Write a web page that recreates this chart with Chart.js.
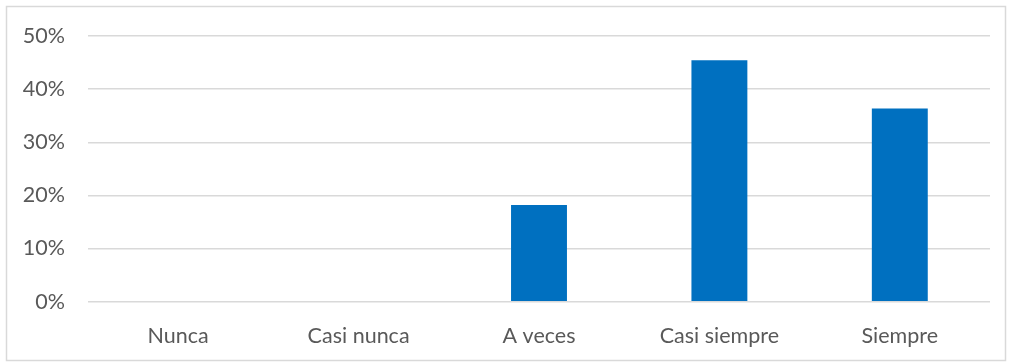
<!DOCTYPE html>
<html><head><meta charset="utf-8">
<script src="https://cdn.jsdelivr.net/npm/chart.js@4/dist/chart.umd.min.js"></script>
<style>html,body{margin:0;padding:0;background:#fff;}canvas{display:block;}</style>
</head><body>
<canvas id="c" width="1009" height="363"></canvas>
<script>
const categories = ["Nunca", "Casi nunca", "A veces", "Casi siempre", "Siempre"];
const values = [0, 0, 0.1818, 0.4545, 0.3636];
const yTicks = [0, 0.1, 0.2, 0.3, 0.4, 0.5];

const borderPlugin = {
  id: 'frame',
  beforeDraw(chart) {
    const ctx = chart.ctx;
    ctx.save();
    ctx.fillStyle = '#fff';
    ctx.fillRect(0, 0, chart.width, chart.height);
    ctx.strokeStyle = '#d9d9d9';
    ctx.lineWidth = 1.5;
    ctx.strokeRect(6.5, 6.5, chart.width - 10, chart.height - 9);
    ctx.restore();
  }
};

new Chart(document.getElementById('c'), {
  type: 'bar',
  data: { labels: categories, datasets: [{ data: values, backgroundColor: '#0070c0', borderWidth: 0, categoryPercentage: 1, barPercentage: 0.31 }] },
  options: {
    responsive: false, animation: false, devicePixelRatio: 1,
    layout: { padding: { top: 36, right: 19, left: 0, bottom: 0 } },
    plugins: { legend: { display: false }, tooltip: { enabled: false } },
    scales: {
      x: {
        grid: { display: false }, border: { display: false },
        ticks: { color: '#595959', font: { family: 'Lato', size: 21.5 }, padding: 13, maxRotation: 0 },
        afterFit(s) { s.height = 61.3; }
      },
      y: {
        min: 0, max: 0.5,
        afterBuildTicks(s) { s.ticks = yTicks.map(v => ({ value: v })); },
        grid: { color: '#d9d9d9', lineWidth: 1.5, drawTicks: false },
        border: { display: false },
        ticks: { color: '#595959', font: { family: 'Lato', size: 21.5 }, padding: 23, callback: v => Math.round(v * 100) + '%' },
        afterFit(s) { s.width = 88; }
      }
    }
  },
  plugins: [borderPlugin]
});
</script>
</body></html>
